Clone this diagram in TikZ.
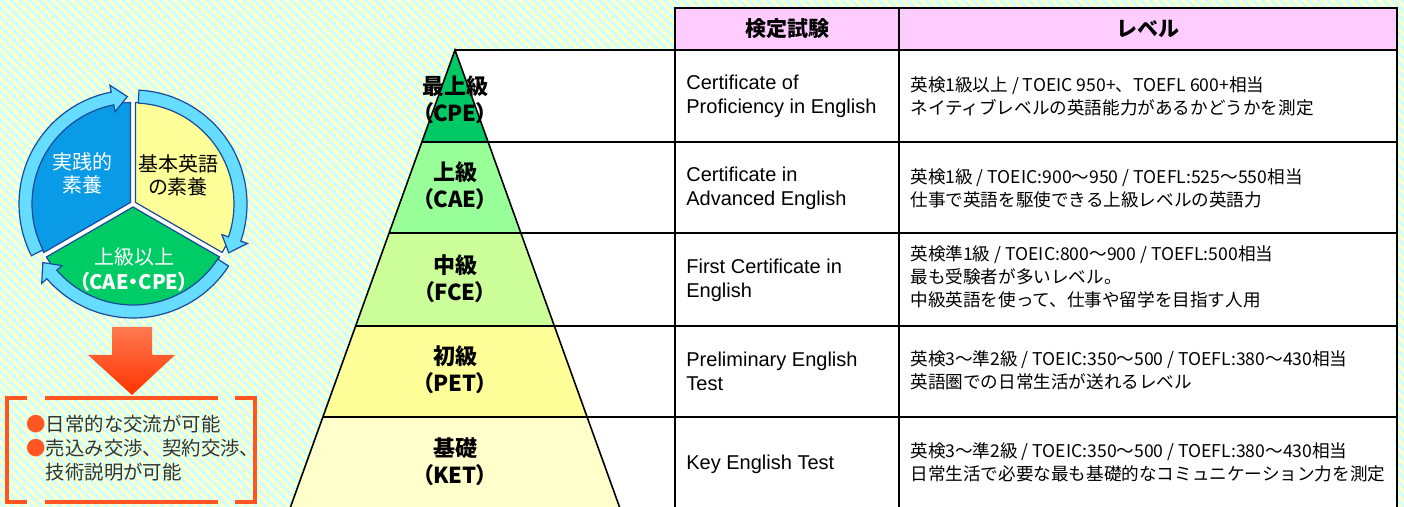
\documentclass[tikz,border=0pt]{standalone}
\usepackage{fontspec}
\setmainfont{Liberation Sans}
\newfontfamily\jp{Noto Sans CJK JP}
\newfontfamily\jpp{Noto Sans CJK JP}[RawFeature=+palt]
\usetikzlibrary{patterns.meta}

\definecolor{bgyellow}{HTML}{FFFFCC}
\definecolor{bgcyan}{HTML}{CCFFFF}
\definecolor{cpegreen}{HTML}{00C864}
\definecolor{caegreen}{HTML}{99FF99}
\definecolor{fcegreen}{HTML}{CCFF99}
\definecolor{petyellow}{HTML}{FFFF99}
\definecolor{ketyellow}{HTML}{FFFFCC}
\definecolor{headpink}{HTML}{FFCCFF}
\definecolor{segblue}{HTML}{0A9BE6}
\definecolor{segyellow}{HTML}{FFFF99}
\definecolor{seggreen}{HTML}{00CC66}
\definecolor{ringcyan}{HTML}{66DDFF}
\definecolor{ringline}{HTML}{1A4A9C}
\definecolor{alertred}{HTML}{FF5522}
\definecolor{arrowtop}{HTML}{FF7A50}
\definecolor{arrowbot}{HTML}{FF3300}
\definecolor{bodytext}{HTML}{333333}

\tikzset{
  grid line/.style={line width=0.8pt, black},
  levelname/.style={font=\jpp\bfseries\fontsize{11}{13.5}\selectfont, align=center},
  examcell/.style={anchor=west, align=left, inner sep=0pt, font=\fontsize{10}{12}\selectfont},
  levelcell/.style={anchor=west, align=left, inner sep=0pt, font=\jp\fontsize{8.8}{11.5}\selectfont},
  headcell/.style={font=\jp\bfseries\fontsize{10.5}{12}\selectfont},
  sector/.style={draw=ringline, line width=0.6pt},
  ringarrow/.style={fill=ringcyan, draw=ringline, line width=0.6pt},
  circtext/.style={font=\jpp\fontsize{10}{11.5}\selectfont, align=center},
  bracket/.style={draw=alertred, line width=2pt},
}

\begin{document}
\begin{tikzpicture}[x=0.5pt, y=-0.5pt]
  \useasboundingbox (0,0) rectangle (1404,507);

  % Striped background
  \fill[bgcyan] (0,0) rectangle (1404,507);
  \fill[pattern={Lines[angle=-45, distance=3.3pt, line width=1.65pt]}, pattern color=bgyellow]
    (0,0) rectangle (1404,507);

  % Table area
  \fill[white] (455,50) -- (1397,50) -- (1397,507) -- (619.5,507) -- cycle;
  \filldraw[grid line, fill=headpink] (675,8) rectangle (1397,50);

  % Pyramid bands
  \foreach \ytop/\ybot/\col in {50/142/cpegreen, 142/233/caegreen, 233/326/fcegreen,
                                326/417/petyellow, 417/507/ketyellow}
    \fill[\col] ({455-0.36*(\ytop-50)},\ytop) -- ({455+0.36*(\ytop-50)},\ytop)
      -- ({455+0.36*(\ybot-50)},\ybot) -- ({455-0.36*(\ybot-50)},\ybot) -- cycle;
  \draw[grid line] (290.5,507) -- (455,50) -- (619.5,507);

  % Row and column lines
  \draw[grid line] (455,50) -- (1397,50);
  \foreach \y in {142,233,326,417}
    \draw[grid line] ({455-0.36*(\y-50)},\y) -- (1397,\y);
  \foreach \x in {675,899,1397}
    \draw[grid line] (\x,8) -- (\x,507);

  % Header
  \node[headcell] (headexam) at (787,29) {検定試験};
  \node[headcell] (headlevel) at (1148,29) {レベル};

  % Level names on the pyramid
  \node[levelname] (cpe) at (455,100) {最上級\\（CPE）};
  \node[levelname] (cae) at (455,186) {上級\\（CAE）};
  \node[levelname] (fce) at (455,279) {中級\\（FCE）};
  \node[levelname] (pet) at (455,370) {初級\\（PET）};
  \node[levelname] (ket) at (455,462) {基礎\\（KET）};

  % Exam names
  \node[examcell] (exam1) at (686,96) {Certificate of\\Proficiency in English};
  \node[examcell] (exam2) at (686,188) {Certificate in\\Advanced English};
  \node[examcell] (exam3) at (686,280) {First Certificate in\\English};
  \node[examcell] (exam4) at (686,371) {Preliminary English\\Test};
  \node[examcell] (exam5) at (686,464) {Key English Test};

  % Levels
  \node[levelcell] (level1) at (910,96)
    {英検1級以上 / TOEIC 950+、TOEFL 600+相当\\ネイティブレベルの英語能力があるかどうかを測定};
  \node[levelcell] (level2) at (910,188)
    {英検1級 / TOEIC:900～950 / TOEFL:525～550相当\\仕事で英語を駆使できる上級レベルの英語力};
  \node[levelcell] (level3) at (910,277)
    {英検準1級 / TOEIC:800～900 / TOEFL:500相当\\最も受験者が多いレベル。\\中級英語を使って、仕事や留学を目指す人用};
  \node[levelcell] (level4) at (910,370)
    {英検3～準2級 / TOEIC:350～500 / TOEFL:380～430相当\\英語圏での日常生活が送れるレベル};
  \node[levelcell] (level5) at (910,462)
    {英検3～準2級 / TOEIC:350～500 / TOEFL:380～430相当\\日常生活で必要な最も基礎的なコミュニケーション力を測定};

  % Cycle of three skills
  \begin{scope}[shift={(133,204)}, yscale=-1]
    \fill[white] (0,0) circle[radius=104];
    \foreach \a/\col in {90/segblue, -30/segyellow, 210/seggreen}
      \filldraw[sector, fill=\col, shift={({\a+60}:3)}]
        (0,0) -- (\a:100) arc[start angle=\a, end angle={\a+120}, radius=100] -- cycle;
    \foreach \r in {0,120,240}
      \filldraw[ringarrow] ({207-\r}:101) arc[start angle={207-\r}, end angle={101-\r}, radius=101]
        -- ({101-\r}:94) -- ({93-\r}:107.5) -- ({101-\r}:121) -- ({101-\r}:114)
        arc[start angle={101-\r}, end angle={207-\r}, radius=114] -- cycle;
  \end{scope}
  \node[circtext, text=white] (practice) at (83,173) {実践的\\素養};
  \node[circtext] (basics) at (178,175) {基本英語\\の素養};
  \node[circtext, text=white, font=\jpp\fontsize{10}{12.5}\selectfont] (upper) at (134,270)
    {上級以上\\\bfseries（CAE・CPE）};

  % Result arrow and box
  \shade[top color=arrowtop, bottom color=arrowbot]
    (112,327) -- (152,327) -- (152,355) -- (175,355) -- (132,395) -- (88,355) -- (112,355) -- cycle;
  \draw[bracket] (27,398) -- (7,398) -- (7,502) -- (27,502);
  \draw[bracket] (235,398) -- (255,398) -- (255,502) -- (235,502);
  \draw[bracket] (45,398) -- (218,398);
  \draw[bracket] (45,502) -- (218,502);
  \node[anchor=north west, align=left, inner sep=0pt, text=bodytext,
        font=\jp\fontsize{9.7}{11.8}\selectfont] (result) at (26,415)
    {\textcolor{alertred}{●}日常的な交流が可能\\\textcolor{alertred}{●}売込み交渉、契約交渉、\\\hspace*{1em}技術説明が可能};
\end{tikzpicture}
\end{document}
